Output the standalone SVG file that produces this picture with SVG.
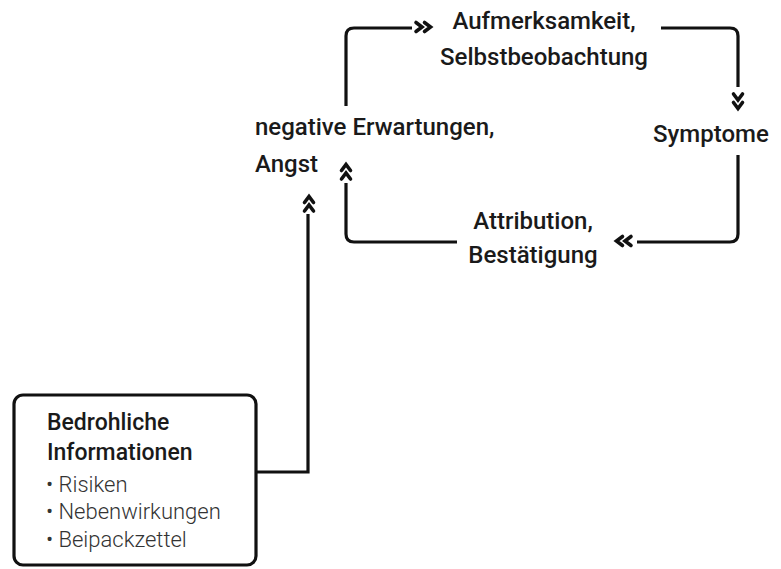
<svg xmlns="http://www.w3.org/2000/svg" width="781" height="569" viewBox="0 0 781 569">
<defs>
<style>
.ln{fill:none;stroke:#111;stroke-width:3.2;stroke-linejoin:round}
.ch{fill:none;stroke:#111;stroke-width:3.6;stroke-linecap:round;stroke-linejoin:miter}
.lbl{font-family:Roboto,"Liberation Sans",sans-serif;font-size:24px;font-weight:500;fill:#1a1a1a}
.ttl{font-family:Roboto,"Liberation Sans",sans-serif;font-size:23px;font-weight:500;fill:#1a1a1a}
.itm{font-family:Roboto,"Liberation Sans",sans-serif;font-size:22px;font-weight:300;fill:#333}
</style>
<path id="chev" d="M0,-4.5 L6,0 L0,4.5 M8.5,-4.5 L14.5,0 L8.5,4.5"/>
</defs>
<rect width="781" height="569" fill="#fff"/>
<g id="connectors">
<path class="ln" d="M346,106 V36 Q346,28 354,28 H412"/>
<path class="ln" d="M661,28 H730 Q738,28 738,36 V87"/>
<path class="ln" d="M738,155 V234 Q738,242 730,242 H637"/>
<path class="ln" d="M457,242 H354 Q346,242 346,234 V183"/>
<path class="ln" d="M256,472 H308 V214" style="stroke-linejoin:miter"/>
<use href="#chev" class="ch" transform="translate(416,27)"/>
<use href="#chev" class="ch" transform="translate(738,94) rotate(90)"/>
<use href="#chev" class="ch" transform="translate(631,241) rotate(180)"/>
<use href="#chev" class="ch" transform="translate(346,179) rotate(-90)"/>
<use href="#chev" class="ch" transform="translate(309,211) rotate(-90)"/>
</g>
<g id="node-aufmerksamkeit">
<text class="lbl" x="544" y="29" text-anchor="middle">Aufmerksamkeit,</text>
<text class="lbl" x="544" y="65" text-anchor="middle">Selbstbeobachtung</text>
</g>
<g id="node-symptome">
<text class="lbl" x="653" y="142">Symptome</text>
</g>
<g id="node-attribution">
<text class="lbl" x="533" y="229" text-anchor="middle">Attribution,</text>
<text class="lbl" x="533" y="263" text-anchor="middle">Bestätigung</text>
</g>
<g id="node-erwartungen">
<text class="lbl" x="255" y="135">negative Erwartungen,</text>
<text class="lbl" x="255" y="172">Angst</text>
</g>
<g id="node-informationen">
<rect x="14" y="395" width="242" height="170" rx="9" fill="#fff" stroke="#111" stroke-width="3.2"/>
<text class="ttl" x="47" y="430">Bedrohliche</text>
<text class="ttl" x="47" y="460">Informationen</text>
<text class="itm" x="46" y="492">• Risiken</text>
<text class="itm" x="46" y="519">• Nebenwirkungen</text>
<text class="itm" x="46" y="547">• Beipackzettel</text>
</g>
</svg>
